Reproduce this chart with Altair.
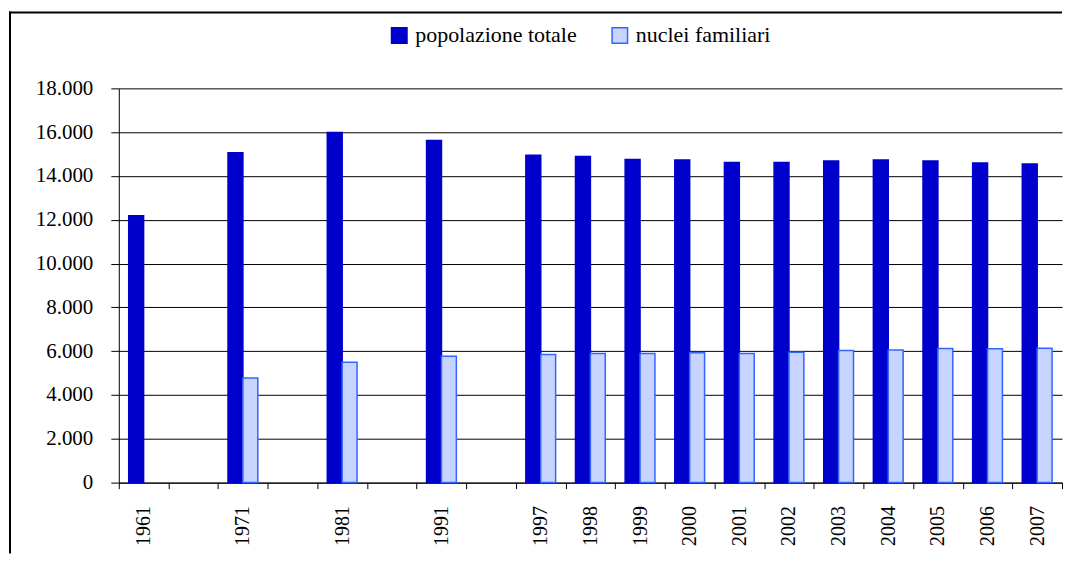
import altair as alt
import pandas as pd

# ---- data ----
years = ["1961", None, "1971", None, "1981", None, "1991", None,
         "1997", "1998", "1999", "2000", "2001", "2002", "2003",
         "2004", "2005", "2006", "2007"]
popolazione = [12180, None, 15060, None, 15990, None, 15620, None,
               14950, 14890, 14755, 14727, 14620, 14620, 14680,
               14727, 14680, 14590, 14545]
nuclei = [None, None, 4780, None, 5500, None, 5775, None,
          5850, 5895, 5895, 5925, 5895, 5955, 6030,
          6060, 6120, 6110, 6135]
series_names = ["popolazione totale", "nuclei familiari"]
y_ticks = [0, 2000, 4000, 6000, 8000, 10000, 12000, 14000, 16000, 18000]

slots = [y if y else f"gap{i}" for i, y in enumerate(years)]
rows = []
for slot, p, n in zip(slots, popolazione, nuclei):
    if p is not None:
        rows.append({"slot": slot, "serie": series_names[0], "valore": p})
    if n is not None:
        rows.append({"slot": slot, "serie": series_names[1], "valore": n})
df = pd.DataFrame(rows)

FONT = "Liberation Serif"
W, H = 945, 395

legend_def = dict(
    title=None, orient="none", direction="horizontal",
    legendX=270, legendY=-64, symbolType="square", symbolSize=240,
    symbolStrokeWidth=1.5, labelOffset=5, columnPadding=32, padding=0,
    labelLimit=400,
)

bars = alt.Chart(df).mark_bar(strokeWidth=1.5).encode(
    x=alt.X(
        "slot:N",
        sort=slots,
        scale=alt.Scale(domain=slots, paddingInner=0, paddingOuter=0),
        axis=alt.Axis(
            title=None, labelAngle=270,
            labelExpr="indexof(datum.label, 'gap') == 0 ? '' : datum.label",
            tickBand="extent", tickSize=6, labelPadding=17, grid=False,
            labelFontSize=20,
        ),
    ),
    xOffset=alt.XOffset(
        "serie:N", sort=series_names,
        scale=alt.Scale(domain=series_names, paddingInner=0, paddingOuter=0.667),
    ),
    y=alt.Y(
        "valore:Q",
        scale=alt.Scale(domain=[0, 18000], nice=False),
        axis=alt.Axis(
            values=y_ticks, title=None,
            labelExpr="replace(format(datum.value, ','), ',', '.')",
            grid=True, tickSize=8, labelPadding=18, labelFontSize=21,
        ),
    ),
    fill=alt.Fill(
        "serie:N", sort=series_names,
        scale=alt.Scale(domain=series_names, range=["#0000CC", "#C6D4FF"]),
        legend=alt.Legend(**legend_def),
    ),
    stroke=alt.Stroke(
        "serie:N", sort=series_names,
        scale=alt.Scale(domain=series_names, range=["#0000CC", "#3366FF"]),
        legend=alt.Legend(**legend_def),
    ),
)

frame = alt.Data(values=[{"k": 1}])
border_v = alt.Chart(frame).mark_rule(color="black", strokeWidth=2).encode(
    x=alt.value(-109), y=alt.value(-77), y2=alt.value(466)
)
border_h = alt.Chart(frame).mark_rule(color="black", strokeWidth=2).encode(
    x=alt.value(-110), x2=alt.value(W), y=alt.value(-76)
)

chart = alt.layer(border_v, border_h, bars).properties(
    width=W, height=H,
    padding={"left": 0, "top": 2, "right": 0, "bottom": 0},
    background="white",
).configure(
    font=FONT,
).configure_axis(
    labelFont=FONT, labelColor="black",
    tickColor="black", domainColor="black",
    gridColor="black", gridOpacity=1, gridWidth=1,
).configure_legend(
    labelFont=FONT, labelFontSize=22, labelColor="black", labelLimit=400,
).configure_view(stroke=None)

chart.save("out.html", embed_options={"renderer": "svg", "actions": False})
